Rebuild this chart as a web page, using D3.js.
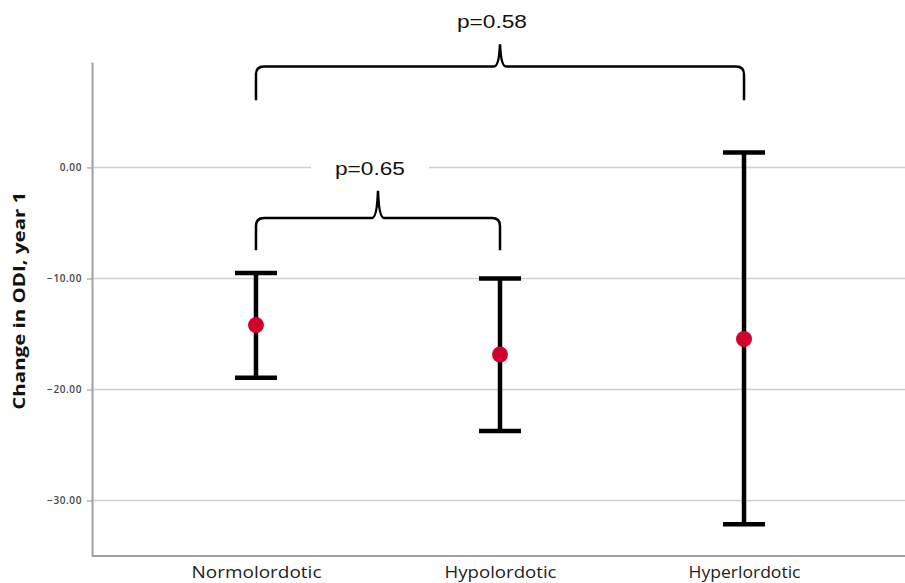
<!DOCTYPE html>
<html><head><meta charset="utf-8">
<script src="https://cdn.jsdelivr.net/npm/d3@7"></script>
<style>body{margin:0;background:#fff;}svg{display:block;}</style>
</head><body>
<script>
const categories = ["Normolordotic", "Hypolordotic", "Hyperlordotic"];
const means = [-14.2, -16.85, -15.45];
const upper = [-9.5, -10.0, 1.35];
const lower = [-18.95, -23.75, -32.15];
const yTicks = [0, -10, -20, -30];
const comparisons = [
  {from: "Normolordotic", to: "Hyperlordotic", label: "p=0.58", base: 6.05, bar: 9.1, apex: 11.1, textY: 12.6},
  {from: "Normolordotic", to: "Hypolordotic", label: "p=0.65", base: -7.45, bar: -4.55, apex: -2.1, textY: -0.65}
];

const W = 905, H = 583;
const svg = d3.select("body").append("svg").attr("width", W).attr("height", H);

const x = d3.scalePoint().domain(categories).range([92, 908]).padding(0.672);
const y = d3.scaleLinear().domain([-35, 9.5]).range([556, 62]);

// gridlines
svg.append("g").selectAll("line").data(yTicks).join("line")
  .attr("x1", 92).attr("x2", W).attr("y1", d => y(d)).attr("y2", d => y(d))
  .attr("stroke", "#cfcfcf").attr("stroke-width", 1.5);

// y axis
const yAxis = svg.append("g").attr("transform", "translate(92,0)")
  .call(d3.axisLeft(y).tickValues(yTicks).tickSize(5).tickSizeOuter(0).tickFormat(d3.format(".2f")));
yAxis.select(".domain").attr("stroke", "#a0a0a0").attr("stroke-width", 2);
yAxis.selectAll(".tick line").attr("stroke", "#a0a0a0").attr("stroke-width", 1.2);
yAxis.selectAll(".tick text").attr("x", -10)
  .attr("font-family", "'Open Sans', sans-serif").attr("font-size", 10).attr("font-weight", 600)
  .attr("fill", "#444").attr("letter-spacing", 0.6);

// x axis
const xAxis = svg.append("g").attr("transform", "translate(0,556)")
  .call(d3.axisBottom(x).tickSize(0).tickSizeOuter(0));
xAxis.select(".domain").attr("stroke", "#a0a0a0").attr("stroke-width", 2).attr("d", `M92,0H${W}`);
xAxis.selectAll(".tick text").attr("y", 22).attr("dy", 0)
  .attr("font-family", "'Open Sans', sans-serif").attr("font-size", 16)
  .attr("fill", "#222").attr("textLength", d => d === "Normolordotic" ? 130 : 112)
  .attr("lengthAdjust", "spacingAndGlyphs");

// y title
svg.append("text").attr("transform", `translate(25,${y(-12.0)}) rotate(-90)`)
  .attr("text-anchor", "middle").attr("font-family", "'Open Sans', sans-serif")
  .attr("font-weight", 700).attr("font-size", 16.5).attr("fill", "#111")
  .attr("textLength", 218).attr("lengthAdjust", "spacingAndGlyphs")
  .text("Change in ODI, year 1");

// error bars
const idx = d3.range(categories.length);
const g = svg.append("g");
g.selectAll("line.v").data(idx).join("line").attr("class", "v")
  .attr("x1", i => x(categories[i])).attr("x2", i => x(categories[i]))
  .attr("y1", i => y(upper[i])).attr("y2", i => y(lower[i]))
  .attr("stroke", "#000").attr("stroke-width", 4.5);
g.selectAll("line.cu").data(idx).join("line").attr("class", "cu")
  .attr("x1", i => x(categories[i]) - 21).attr("x2", i => x(categories[i]) + 21)
  .attr("y1", i => y(upper[i])).attr("y2", i => y(upper[i]))
  .attr("stroke", "#000").attr("stroke-width", 4.5);
g.selectAll("line.cl").data(idx).join("line").attr("class", "cl")
  .attr("x1", i => x(categories[i]) - 21).attr("x2", i => x(categories[i]) + 21)
  .attr("y1", i => y(lower[i])).attr("y2", i => y(lower[i]))
  .attr("stroke", "#000").attr("stroke-width", 4.5);
g.selectAll("circle").data(idx).join("circle")
  .attr("cx", i => x(categories[i])).attr("cy", i => y(means[i])).attr("r", 8)
  .attr("fill", "#d2002c");

// brackets
comparisons.forEach(c => {
  const x1 = x(c.from), x2 = x(c.to), xm = (x1 + x2) / 2;
  const yb = y(c.base), yh = y(c.bar), ya = y(c.apex);
  const r = 8;
  const grp = svg.append("g");
  const p = d3.path();
  p.moveTo(x1, yb);
  p.lineTo(x1, yh + r);
  p.quadraticCurveTo(x1, yh, x1 + r, yh);
  p.lineTo(xm - 6, yh);
  p.quadraticCurveTo(xm - 1, yh, xm, ya);
  p.moveTo(xm, ya);
  p.quadraticCurveTo(xm + 1, yh, xm + 6, yh);
  p.lineTo(x2 - r, yh);
  p.quadraticCurveTo(x2, yh, x2, yh + r);
  p.lineTo(x2, yb);
  grp.append("path").attr("d", p.toString()).attr("fill", "none")
    .attr("stroke", "#000").attr("stroke-width", 2.5);
  const bg = grp.append("rect").attr("fill", "#fff");
  const t = grp.append("text").attr("x", xm - 8).attr("y", y(c.textY))
    .attr("text-anchor", "middle").attr("font-family", "'Liberation Sans', Arial, sans-serif")
    .attr("font-size", 19).attr("fill", "#111").attr("textLength", 70)
    .attr("lengthAdjust", "spacingAndGlyphs").text(c.label);
  const bb = t.node().getBBox();
  bg.attr("x", bb.x - 24).attr("y", bb.y - 2)
    .attr("width", bb.width + 48).attr("height", bb.height + 4);
});
</script>
</body></html>
